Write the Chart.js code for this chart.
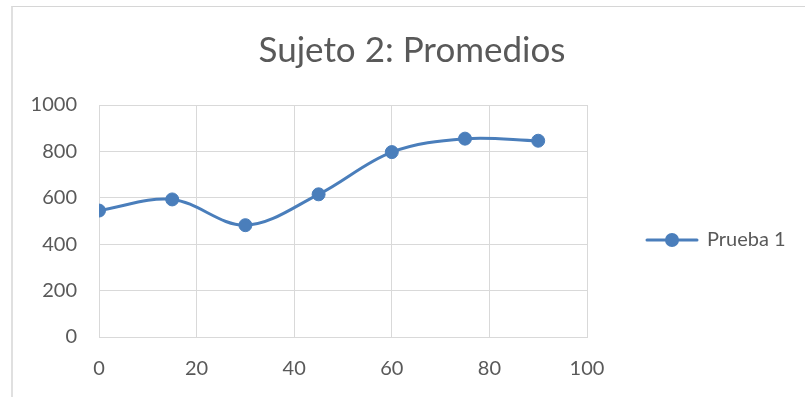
<!DOCTYPE html>
<html>
<head>
<meta charset="utf-8">
<script src="https://cdn.jsdelivr.net/npm/chart.js@4/dist/chart.umd.min.js"></script>
<style>
  html, body { margin: 0; padding: 0; background: #ffffff; }
  #wrap { position: relative; width: 805px; height: 397px; overflow: hidden; }
  #frame { position: absolute; left: 11px; top: 6px; right: -4px; bottom: -4px;
           border-top: 1px solid #d6d6d6; border-left: 2px solid #e0e0e0; }
  canvas { position: absolute; left: 0; top: 0; }
</style>
</head>
<body>
<div id="wrap">
  <div id="frame"></div>
  <canvas id="chart" width="805" height="397"></canvas>
</div>
<script>
// Time points (x) and averaged values (y)
const tiempos = [0, 15, 30, 45, 60, 75, 90];
const promedios = [545, 593, 482, 615, 797, 855, 846];
const xTicks = [0, 20, 40, 60, 80, 100];
const yTicks = [0, 200, 400, 600, 800, 1000];
const serieNombre = 'Prueba 1';
const titulo = 'Sujeto 2: Promedios';

const azul = '#4a7ebb';
const gris = '#595959';
const rejilla = '#d9d9d9';
const fuente = 'Lato, "Open Sans", sans-serif';

// Legend icon: line segment with a circle marker in the middle
const icono = document.createElement('canvas');
icono.width = 54; icono.height = 16;
(function () {
  const c = icono.getContext('2d');
  c.strokeStyle = azul; c.lineWidth = 3; c.lineCap = 'round';
  c.beginPath(); c.moveTo(2, 8); c.lineTo(52, 8); c.stroke();
  c.fillStyle = azul;
  c.beginPath(); c.arc(27, 8, 7, 0, Math.PI * 2); c.fill();
})();

// Nudges the legend down and the title to the right after layout;
// the legend box is also widened a bit so its text is never clipped
const boxNudge = {
  id: 'boxNudge',
  afterLayout(chart) {
    const lg = chart.legend;
    if (lg) { lg.top += 19; lg.bottom += 19; lg.right += 16; lg.width += 16; }
    const tb = chart.titleBlock;
    if (tb) { tb.left += 17; tb.right += 17; }
  }
};

function dibujar() {
  new Chart(document.getElementById('chart'), {
    type: 'scatter',
    data: {
      datasets: [{
        label: serieNombre,
        data: tiempos.map((t, i) => ({ x: t, y: promedios[i] })),
        showLine: true,
        borderColor: azul,
        backgroundColor: azul,
        borderWidth: 3,
        tension: 0.35,
        pointRadius: 6.5,
        pointHoverRadius: 6.5,
        pointBorderWidth: 1,
        pointBorderColor: azul,
        pointBackgroundColor: azul
      }]
    },
    options: {
      responsive: false,
      animation: false,
      events: [],
      layout: { padding: { left: 11, top: 6, right: 26, bottom: 0 } },
      plugins: {
        title: {
          display: true,
          text: titulo,
          color: gris,
          font: { family: fuente, size: 35, weight: 'normal' },
          padding: { top: 24, bottom: 33 }
        },
        legend: {
          display: true,
          position: 'right',
          fullSize: false,
          align: 'center',
          labels: {
            usePointStyle: true,
            pointStyle: icono,
            pointStyleWidth: 50,
            padding: 60,
            color: gris,
            font: { family: fuente, size: 20 }
          }
        },
        tooltip: { enabled: false }
      },
      scales: {
        x: {
          type: 'linear',
          min: 0, max: 100,
          afterFit(scale) { scale.height = 60; },
          afterBuildTicks(scale) { scale.ticks = xTicks.map(v => ({ value: v })); },
          ticks: { color: gris, padding: 20, font: { family: fuente, size: 20 },
                   callback: v => String(v) },
          grid: { color: rejilla, lineWidth: 1, drawTicks: false },
          border: { color: rejilla, width: 1 }
        },
        y: {
          type: 'linear',
          min: 0, max: 1000,
          afterFit(scale) { scale.width = 88; },
          afterBuildTicks(scale) { scale.ticks = yTicks.map(v => ({ value: v })); },
          ticks: { color: gris, padding: 22, font: { family: fuente, size: 20 },
                   callback: v => String(v) },
          grid: { color: rejilla, lineWidth: 1, drawTicks: false },
          border: { color: rejilla, width: 1 }
        }
      }
    },
    plugins: [boxNudge]
  });
}

// Make sure the text font is ready before measuring labels
Promise.all([
  document.fonts.load('20px Lato'),
  document.fonts.load('35px Lato')
]).then(dibujar, dibujar);
</script>
</body>
</html>
